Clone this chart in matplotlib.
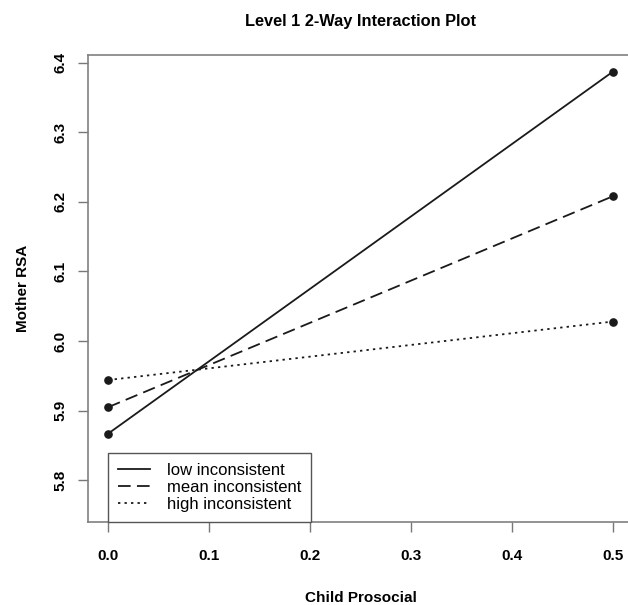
import matplotlib
matplotlib.use("Agg")
import matplotlib.pyplot as plt
from matplotlib.lines import Line2D

plt.rcParams['font.family'] = ['Liberation Sans', 'DejaVu Sans']

x_values = [0.0, 0.5]
low_inconsistent = [5.867, 6.387]
mean_inconsistent = [5.905, 6.208]
high_inconsistent = [5.944, 6.028]
series_labels = ["low inconsistent", "mean inconsistent", "high inconsistent"]
x_ticks = [0.0, 0.1, 0.2, 0.3, 0.4, 0.5]
y_ticks = [5.8, 5.9, 6.0, 6.1, 6.2, 6.3, 6.4]

fig = plt.figure(figsize=(6.28, 6.05), dpi=100)
ax = fig.add_axes([88/628, 1-522/605, (633-88)/628, (522-55)/605])

styles = ['-', (0, (7, 3.5)), (0, (1.3, 2.3))]
color = '#1a1a1a'
for ys, ls, lab in zip([low_inconsistent, mean_inconsistent, high_inconsistent], styles, series_labels):
    ax.plot(x_values, ys, linestyle=ls, color=color, linewidth=1.3, label=lab)
    ax.plot(x_values, ys, 'o', color=color, markersize=5.2, clip_on=False)

ax.set_xlim(-0.02, 0.52)
ax.set_ylim(5.740, 6.411)
ax.set_xticks(x_ticks)
ax.set_xticklabels([f"{v:.1f}" for v in x_ticks], fontweight='bold', fontsize=11)
ax.set_yticks(y_ticks)
ax.set_yticklabels([f"{v:.1f}" for v in y_ticks], fontweight='bold', fontsize=11, rotation=90, va='center')
ax.tick_params(axis='x', direction='out', length=7, width=1, color='#777777', pad=12.5)
ax.tick_params(axis='y', direction='out', length=7, width=1, color='#777777', pad=8)
for s in ax.spines.values():
    s.set_color('#808080')
    s.set_linewidth(1.2)

ax.set_title("Level 1 2-Way Interaction Plot", fontweight='bold', fontsize=11.8, pad=21)
ax.set_xlabel("Child Prosocial", fontweight='bold', fontsize=11, labelpad=20)
ax.set_ylabel("Mother RSA", fontweight='bold', fontsize=11, labelpad=16.5)

handles = [Line2D([0], [0], color=color, linestyle=ls, linewidth=1.3) for ls in styles]
leg = ax.legend(handles, series_labels, loc='lower left', fancybox=False, framealpha=1,
                edgecolor='#555555', fontsize=12, handlelength=1.9, labelspacing=0.12,
                borderpad=0.6, handletextpad=1.0, borderaxespad=0)
leg.set_bbox_to_anchor((0.0, 5.740), transform=ax.transData)
leg.get_frame().set_linewidth(1.0)

fig.savefig("out.png", dpi=100, facecolor='white')
